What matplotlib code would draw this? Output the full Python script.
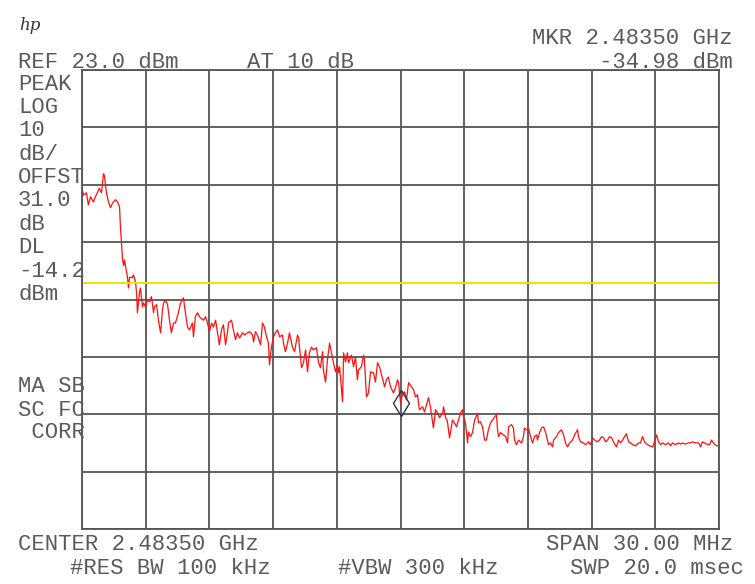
import numpy as np
import matplotlib.pyplot as plt

# spectrum analyzer settings
center_mhz = 2483.5
span_mhz = 30.0
ref_dbm = 23.0
db_per_div = 10.0
display_line = -14.2
marker_offset = 0.0
marker_dbm = -34.98

# trace: offset from centre (MHz) and level (dBm)
offset_mhz = [
    -14.98, -14.93, -14.79, -14.70, -14.60, -14.46, -14.37, -14.27, -14.18, -14.08,
    -13.99, -13.95, -13.85, -13.75, -13.66, -13.56, -13.52, -13.42, -13.33, -13.23,
    -13.19, -13.14, -13.09, -13.04, -13.00, -12.86, -12.81, -12.76, -12.62, -12.58,
    -12.48, -12.43, -12.39, -12.29, -12.25, -12.15, -12.10, -12.01, -11.92, -11.82,
    -11.73, -11.63, -11.59, -11.49, -11.40, -11.30, -11.21, -11.16, -11.07, -10.97,
    -10.88, -10.79, -10.69, -10.60, -10.46, -10.36, -10.22, -10.17, -10.08, -10.03,
    -9.94, -9.80, -9.75, -9.66, -9.56, -9.47,
    -9.42, -9.28, -9.18, -9.09, -9.00, -8.90, -8.81, -8.71, -8.62, -8.53,
    -8.43, -8.34, -8.24, -8.15, -8.10, -7.96, -7.87, -7.77, -7.68, -7.58,
    -7.44, -7.35, -7.21, -7.11, -6.97, -6.92, -6.83, -6.74, -6.59, -6.50,
    -6.41, -6.31, -6.22, -6.17, -6.08, -5.98, -5.89, -5.79, -5.70, -5.56,
    -5.51, -5.42, -5.32, -5.23, -5.09, -4.99, -4.85, -4.80, -4.66, -4.57,
    -4.47, -4.38, -4.29, -4.19, -4.10, -3.96, -3.86, -3.77, -3.67, -3.63,
    -3.53, -3.44, -3.34, -3.25, -3.16, -3.06, -2.97, -2.92,
    -2.87, -2.73, -2.68, -2.59, -2.50, -2.45, -2.31, -2.21, -2.12, -2.03,
    -1.98, -1.84, -1.74, -1.70, -1.60, -1.51, -1.41, -1.27, -1.18, -1.08,
    -0.99, -0.85, -0.75, -0.66, -0.57, -0.47, -0.33, -0.24, -0.14, -0.09,
    0.00, 0.09, 0.19, 0.28, 0.38, 0.52, 0.61, 0.71, 0.80, 0.89,
    1.04, 1.13, 1.22, 1.32, 1.41, 1.55, 1.65, 1.74, 1.84, 1.98,
    2.03, 2.12, 2.21, 2.31, 2.45, 2.54, 2.64, 2.73,
    2.83, 2.92, 2.97, 3.06, 3.16, 3.20, 3.30, 3.39, 3.49, 3.63,
    3.67, 3.77, 3.86, 3.96, 4.05, 4.14, 4.24, 4.33, 4.43, 4.52,
    4.57, 4.62, 4.71, 4.85, 4.95, 5.04, 5.09, 5.23, 5.32, 5.37,
    5.46, 5.56, 5.70, 5.79, 5.84, 5.93, 6.03, 6.08, 6.17, 6.22,
    6.31, 6.41, 6.45, 6.55, 6.64, 6.74, 6.83, 6.92, 6.97, 7.07,
    7.16, 7.21, 7.35, 7.44, 7.58, 7.68, 7.77, 7.87, 7.96, 8.10,
    8.20, 8.34, 8.38, 8.48, 8.62, 8.71,
    8.81, 8.85, 8.95, 9.04, 9.14, 9.28, 9.37, 9.47, 9.56, 9.66,
    9.75, 9.84, 9.94, 10.03, 10.17, 10.27, 10.36, 10.46, 10.55, 10.64,
    10.74, 10.83, 10.93, 11.07, 11.21, 11.30, 11.40, 11.49, 11.63, 11.73,
    11.87, 11.92, 12.06, 12.15, 12.25, 12.34, 12.48, 12.62, 12.72, 12.81,
    12.95, 13.09, 13.19, 13.28, 13.42, 13.56, 13.66, 13.75, 13.89, 14.04,
    14.13, 14.22, 14.32, 14.46, 14.55, 14.65, 14.74, 14.88, 14.98,
]
level_dbm = [
    2.1, 1.2, 1.6, -0.5, 0.9, 0.0, 0.9, 1.7, 2.4, 1.6,
    4.9, 4.7, 1.6, 0.0, -1.0, -0.2, 0.0, 0.4, 0.0, -0.9,
    -4.4, -7.1, -10.1, -11.1, -10.1, -13.1, -15.0, -13.1, -13.2, -12.7,
    -13.9, -15.9, -19.3, -15.7, -15.0, -18.3, -17.6, -18.3, -17.1, -17.4,
    -16.5, -19.3, -18.3, -17.9, -20.6, -22.8, -18.8, -17.6, -17.1, -17.9,
    -20.6, -22.8, -21.1, -21.1, -19.3, -17.6, -16.7, -18.3, -20.6, -21.8,
    -22.3, -21.1, -23.5, -20.0, -19.3, -20.0,
    -20.2, -20.6, -20.0, -21.1, -22.6, -21.1, -21.8, -20.6, -22.8, -24.9,
    -22.3, -21.4, -24.9, -22.8, -21.1, -20.6, -22.3, -24.0, -22.8, -23.7,
    -22.8, -23.2, -22.8, -22.6, -23.2, -24.4, -22.6, -23.2, -24.9, -21.1,
    -21.8, -23.5, -24.6, -28.4, -25.3, -23.5, -22.8, -22.3, -23.5, -23.2,
    -24.6, -26.1, -24.6, -22.8, -25.3, -26.1, -23.2, -23.7, -28.9, -28.0,
    -25.8, -29.6, -26.3, -25.3, -25.8, -25.4, -28.0, -28.9, -26.1, -29.3,
    -31.4, -27.5, -24.6, -26.3, -28.0, -29.6, -28.4, -29.8,
    -28.7, -34.8, -26.3, -27.9, -26.3, -28.0, -26.7, -28.7, -27.0, -31.0,
    -29.3, -28.7, -26.7, -27.5, -34.0, -33.3, -29.6, -29.8, -31.4, -28.0,
    -28.7, -30.7, -32.2, -31.0, -30.5, -32.2, -33.3, -32.4, -31.0, -31.5,
    -35.0, -33.6, -33.1, -34.5, -31.5, -32.2, -32.7, -34.0, -33.6, -36.2,
    -35.7, -36.6, -35.4, -34.1, -35.7, -39.4, -36.2, -36.8, -37.6, -36.8,
    -35.7, -37.5, -38.3, -41.1, -38.0, -38.5, -39.2, -38.0,
    -36.8, -36.2, -37.5, -38.5, -42.0, -40.1, -40.9, -40.2, -38.0, -36.8,
    -38.5, -38.3, -39.2, -41.5, -41.5, -39.7, -38.5, -38.0, -37.5, -37.1,
    -39.7, -40.9, -40.2, -40.6, -40.9, -42.0, -39.2, -38.8, -39.4, -41.5,
    -42.3, -41.5, -42.0, -40.9, -39.4, -39.7, -39.5, -40.2, -41.5, -42.0,
    -40.9, -40.6, -41.5, -40.2, -39.4, -39.2, -40.1, -41.5, -42.3, -42.0,
    -42.7, -41.5, -40.9, -40.2, -39.7, -40.6, -42.0, -42.7, -42.0, -41.5,
    -40.6, -39.7, -40.9, -41.8, -42.0, -42.3,
    -42.0, -41.8, -42.3, -41.1, -41.5, -41.8, -41.5, -40.9, -41.1, -41.8,
    -41.5, -40.9, -41.1, -41.8, -42.7, -41.5, -42.0, -41.5, -40.9, -40.4,
    -41.8, -42.0, -42.3, -42.5, -42.0, -42.0, -40.9, -41.8, -42.3, -42.5,
    -42.7, -42.3, -40.6, -41.8, -42.3, -42.0, -42.3, -42.0, -42.5, -42.0,
    -42.3, -42.0, -42.2, -42.0, -42.2, -42.0, -42.0, -41.8, -42.0, -42.0,
    -42.7, -41.8, -42.0, -42.3, -42.3, -41.5, -42.0, -42.5, -42.5,
]

freq = center_mhz + np.array(offset_mhz)
lo = center_mhz - span_mhz / 2
hi = center_mhz + span_mhz / 2
bottom = ref_dbm - 8 * db_per_div

W, H = 755, 584
fig = plt.figure(figsize=(W / 100, H / 100), dpi=100)
ax = fig.add_axes([82 / W, 1 - 529 / H, 637 / W, 459 / H])

ax.plot(freq, level_dbm, color='#ff1010', lw=0.9)
ax.axhline(display_line, color='#e6e600', lw=1.4)
ax.plot(center_mhz + marker_offset, marker_dbm, marker='d', ms=13, mfc='none',
        mec='#333333', mew=1.0)

ax.set_xlim(lo, hi)
ax.set_ylim(bottom, ref_dbm)
ax.set_xticks(np.linspace(lo, hi, 11))
ax.set_yticks(np.linspace(bottom, ref_dbm, 9))
ax.grid(True, color='#555555', lw=1.3)
ax.tick_params(length=0, labelbottom=False, labelleft=False)
for s in ax.spines.values():
    s.set_color('#555555')
    s.set_linewidth(1.3)

mono = dict(family='Liberation Mono', fontsize=16, color='#5a5a5a', va='center')

def put(x, y, s, **kw):
    fig.text(x / W, 1 - y / H, s, **{**mono, **kw})

put(18, 62, 'REF 23.0 dBm')
put(247, 62, 'AT 10 dB')
put(733, 39, 'MKR 2.48350 GHz', ha='right')
put(733, 62, '-34.98 dBm', ha='right')

left_labels = ['PEAK', 'LOG', '10', 'dB/', 'OFFST', '31.0', 'dB', 'DL', '-14.2', 'dBm']
for i, s in enumerate(left_labels):
    put(18, 84 + i * 23.4, s)
put(18, 386, 'MA SB')
put(18, 410, 'SC FC')
put(18, 432, ' CORR')

put(18, 545, 'CENTER 2.48350 GHz')
put(733, 545, 'SPAN 30.00 MHz', ha='right')
put(70, 569, '#RES BW 100 kHz')
put(338, 569, '#VBW 300 kHz')
put(570, 569, 'SWP 20.0 msec')

fig.text(19 / W, 1 - 25 / H, 'hp', family='DejaVu Serif', style='italic',
         fontsize=12, color='#333333', va='center')

fig.savefig('out.png', dpi=100)
